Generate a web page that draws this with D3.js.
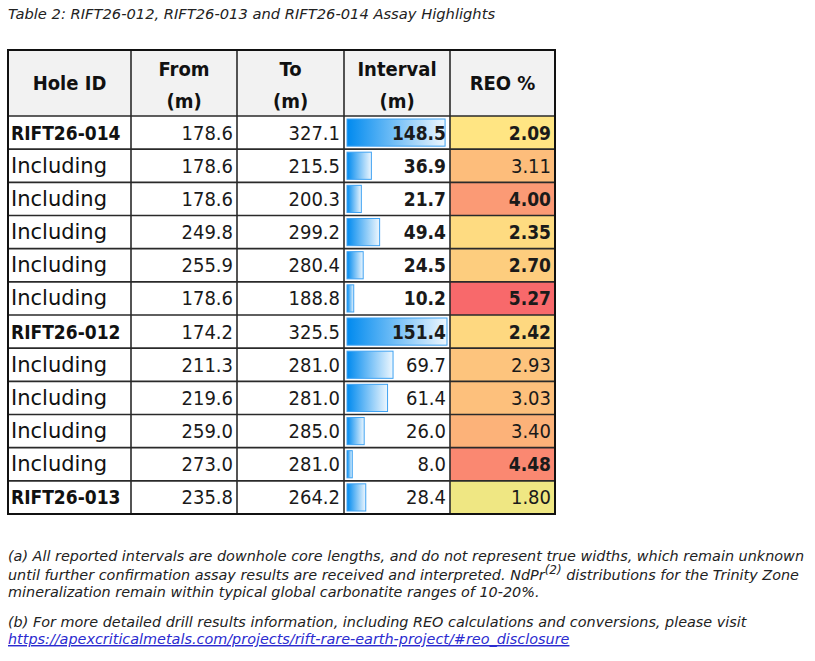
<!DOCTYPE html>
<html>
<head>
<meta charset="utf-8">
<script src="https://cdn.jsdelivr.net/npm/d3@7"></script>
<style>
  body { margin: 0; background: #fff; }
</style>
</head>
<body>
<svg id="chart" width="815" height="661"></svg>
<script>
const holeIds = ["RIFT26-014", "Including", "Including", "Including", "Including", "Including",
                 "RIFT26-012", "Including", "Including", "Including", "Including", "RIFT26-013"];
const fromM = [178.6, 178.6, 178.6, 249.8, 255.9, 178.6, 174.2, 211.3, 219.6, 259.0, 273.0, 235.8];
const toM = [327.1, 215.5, 200.3, 299.2, 280.4, 188.8, 325.5, 281.0, 281.0, 285.0, 281.0, 264.2];
const intervalM = [148.5, 36.9, 21.7, 49.4, 24.5, 10.2, 151.4, 69.7, 61.4, 26.0, 8.0, 28.4];
const reoPct = [2.09, 3.11, 4.00, 2.35, 2.70, 5.27, 2.42, 2.93, 3.03, 3.40, 4.48, 1.80];
const headers = [["Hole ID"], ["From", "(m)"], ["To", "(m)"], ["Interval", "(m)"], ["REO %"]];
// which values are set in bold in the source table
const boldInterval = [1, 1, 1, 1, 1, 1, 1, 0, 0, 0, 0, 0];
const boldReo = [1, 0, 1, 1, 1, 1, 1, 0, 0, 0, 1, 0];

const caption = "Table 2: RIFT26-012, RIFT26-013 and RIFT26-014 Assay Highlights";
const noteA1 = "(a) All reported intervals are downhole core lengths, and do not represent true widths, which remain unknown";
const noteA2 = "until further confirmation assay results are received and interpreted. NdPr";
const noteA2b = " distributions for the Trinity Zone";
const noteA3 = "mineralization remain within typical global carbonatite ranges of 10-20%.";
const noteB = "(b) For more detailed drill results information, including REO calculations and conversions, please visit";
const noteLink = "https://apexcriticalmetals.com/projects/rift-rare-earth-project/#reo_disclosure";

// --- layout ---
const svg = d3.select("#chart");
const colEdges = [8, 131, 237, 344, 450, 555];
const headTop = 50, headBottom = 116, tableBottom = 514;
const pad = 4;

const y = d3.scaleBand()
  .domain(d3.range(holeIds.length))
  .range([headBottom, tableBottom]);

const barW = d3.scaleLinear()
  .domain([0, d3.max(intervalM)])
  .range([0, colEdges[4] - colEdges[3] - 6]);

const reoColor = d3.scaleLinear()
  .domain([0.63, 1.93, 5.27])
  .range(["#63BE7B", "#FFEB84", "#F8696B"]);

const numFont = "'DejaVu Sans Condensed', 'DejaVu Sans', sans-serif";

// gradient for the data bars
const grad = svg.append("defs").append("linearGradient").attr("id", "barGrad");
grad.append("stop").attr("offset", "0%").attr("stop-color", "#008AEF");
grad.append("stop").attr("offset", "100%").attr("stop-color", "#eef7fe");

// caption
svg.append("text")
  .attr("x", 8).attr("y", 19)
  .attr("font-family", "'DejaVu Sans', sans-serif")
  .attr("font-style", "italic")
  .attr("font-size", 14.7)
  .attr("fill", "#222")
  .text(caption);

// header background
svg.append("rect")
  .attr("x", colEdges[0]).attr("y", headTop)
  .attr("width", colEdges[5] - colEdges[0]).attr("height", headBottom - headTop)
  .attr("fill", "#f2f2f2");

// REO cells colour scale
svg.selectAll("rect.reo")
  .data(reoPct)
  .join("rect")
  .attr("class", "reo")
  .attr("x", colEdges[4]).attr("y", (d, i) => y(i))
  .attr("width", colEdges[5] - colEdges[4]).attr("height", y.bandwidth())
  .attr("fill", d => reoColor(d));

// interval data bars
svg.selectAll("rect.bar")
  .data(intervalM)
  .join("rect")
  .attr("class", "bar")
  .attr("x", colEdges[3] + 3)
  .attr("y", (d, i) => y(i) + 3)
  .attr("width", d => barW(d))
  .attr("height", y.bandwidth() - 6)
  .attr("fill", "url(#barGrad)")
  .attr("stroke", "#3fa2f2")
  .attr("stroke-width", 1);

// header text
const headG = svg.selectAll("g.head")
  .data(headers)
  .join("g")
  .attr("class", "head")
  .attr("transform", (d, i) => `translate(${(colEdges[i] + colEdges[i + 1]) / 2},${(headTop + headBottom) / 2})`);

headG.selectAll("text")
  .data(d => d.map((t, k) => ({ t, k, n: d.length })))
  .join("text")
  .attr("text-anchor", "middle")
  .attr("y", d => d.n === 1 ? 7 : (d.k === 0 ? -7 : 25))
  .attr("font-family", numFont)
  .attr("font-weight", "bold")
  .attr("font-size", 20)
  .attr("fill", "#111")
  .text(d => d.t);

// hole id column
svg.selectAll("text.hole")
  .data(holeIds)
  .join("text")
  .attr("class", "hole")
  .attr("x", colEdges[0] + 3)
  .attr("y", (d, i) => y(i) + y.bandwidth() / 2 + 7)
  .attr("font-family", d => d === "Including" ? "'DejaVu Sans', sans-serif" : numFont)
  .attr("font-weight", d => d === "Including" ? "normal" : "bold")
  .attr("font-size", d => d === "Including" ? 21 : 19)
  .attr("fill", "#111")
  .text(d => d);

// numeric columns
const numCols = [
  { vals: fromM, col: 1, fmt: d3.format(".1f"), bold: () => 0 },
  { vals: toM, col: 2, fmt: d3.format(".1f"), bold: () => 0 },
  { vals: intervalM, col: 3, fmt: d3.format(".1f"), bold: i => boldInterval[i] },
  { vals: reoPct, col: 4, fmt: d3.format(".2f"), bold: i => boldReo[i] }
];

numCols.forEach(c => {
  svg.selectAll(null)
    .data(c.vals)
    .join("text")
    .attr("x", colEdges[c.col + 1] - pad)
    .attr("y", (d, i) => y(i) + y.bandwidth() / 2 + 7)
    .attr("text-anchor", "end")
    .attr("font-family", numFont)
    .attr("font-weight", (d, i) => c.bold(i) ? "bold" : "normal")
    .attr("font-size", (d, i) => c.bold(i) ? 19 : 20)
    .attr("fill", "#1a1a1a")
    .text(d => c.fmt(d));
});

// grid lines
const rowLines = [headTop, headBottom].concat(d3.range(1, holeIds.length).map(i => y(i)), [tableBottom]);
svg.selectAll("line.h")
  .data(rowLines)
  .join("line")
  .attr("x1", colEdges[0]).attr("x2", colEdges[5])
  .attr("y1", d => d).attr("y2", d => d)
  .attr("stroke", "#2a2a2a")
  .attr("stroke-width", 1.6);

svg.selectAll("line.v")
  .data(colEdges)
  .join("line")
  .attr("x1", d => d).attr("x2", d => d)
  .attr("y1", headTop).attr("y2", tableBottom)
  .attr("stroke", "#2a2a2a")
  .attr("stroke-width", (d, i) => (i === 0 || i === colEdges.length - 1) ? 2 : 1.6);

svg.append("rect")
  .attr("x", colEdges[0]).attr("y", headTop)
  .attr("width", colEdges[5] - colEdges[0]).attr("height", tableBottom - headTop)
  .attr("fill", "none")
  .attr("stroke", "#111")
  .attr("stroke-width", 2);

// footnotes
const notes = svg.append("g")
  .attr("font-family", "'DejaVu Sans', sans-serif")
  .attr("font-style", "italic")
  .attr("font-size", 14.4)
  .attr("fill", "#222");

notes.append("text").attr("x", 8).attr("y", 561).text(noteA1);
const l2 = notes.append("text").attr("x", 8).attr("y", 580);
l2.append("tspan").text(noteA2);
l2.append("tspan").attr("dy", -6).attr("font-size", 12).text("(2)");
l2.append("tspan").attr("dy", 6).text(noteA2b);
notes.append("text").attr("x", 8).attr("y", 597).text(noteA3);
notes.append("text").attr("x", 8).attr("y", 627).text(noteB);
notes.append("text").attr("x", 8).attr("y", 644)
  .attr("fill", "#2b2bd0")
  .attr("text-decoration", "underline")
  .text(noteLink);
</script>
</body>
</html>
